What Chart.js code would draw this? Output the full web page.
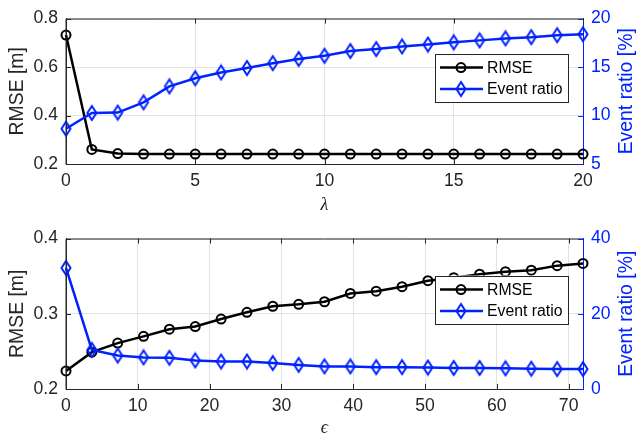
<!DOCTYPE html>
<html>
<head>
<meta charset="utf-8">
<script src="https://cdn.jsdelivr.net/npm/chart.js@4.4.1/dist/chart.umd.min.js"></script>
<style>
  html, body { margin: 0; padding: 0; background: #fff; }
  .wrap { position: absolute; left: 0; width: 638px; }
  #topWrap { top: 0; height: 220px; }
  #botWrap { top: 220px; height: 219px; }
</style>
</head>
<body>
<div class="wrap" id="topWrap"><canvas id="topChart" width="638" height="220"></canvas></div>
<div class="wrap" id="botWrap"><canvas id="botChart" width="638" height="219"></canvas></div>
<script>
// top panel: sweep over lambda
const lambdaValues = [0, 1, 2, 3, 4, 5, 6, 7, 8, 9, 10, 11, 12, 13, 14, 15, 16, 17, 18, 19, 20];
const rmseLambda = [0.732, 0.26, 0.243, 0.241, 0.241, 0.241, 0.241, 0.241, 0.241, 0.241, 0.241,
  0.241, 0.241, 0.241, 0.241, 0.241, 0.241, 0.241, 0.241, 0.241, 0.241];
const ratioLambda = [8.64, 10.26, 10.3, 11.36, 13.0, 13.84, 14.44, 14.9, 15.4, 15.83, 16.16,
  16.65, 16.85, 17.12, 17.32, 17.55, 17.75, 17.95, 18.08, 18.28, 18.38];

// bottom panel: sweep over epsilon
const epsValues = [0, 3.6, 7.2, 10.8, 14.4, 18, 21.6, 25.2, 28.8, 32.4, 36,
  39.6, 43.2, 46.8, 50.4, 54, 57.6, 61.2, 64.8, 68.4, 72];
const rmseEps = [0.224, 0.249, 0.261, 0.270, 0.2795, 0.283, 0.293, 0.302, 0.310, 0.3126, 0.316,
  0.327, 0.330, 0.336, 0.344, 0.348, 0.3527, 0.356, 0.358, 0.364, 0.367];
const ratioEps = [32.2, 10.4, 8.9, 8.4, 8.3, 7.6, 7.3, 7.3, 6.9, 6.4, 6.0,
  6.0, 5.8, 5.8, 5.7, 5.6, 5.6, 5.5, 5.4, 5.3, 5.3];

// tick labels
const topXTicks = [0, 5, 10, 15, 20];
const topLeftTicks = [0.2, 0.4, 0.6, 0.8];
const topRightTicks = [5, 10, 15, 20];
const botXTicks = [0, 10, 20, 30, 40, 50, 60, 70];
const botLeftTicks = [0.2, 0.3, 0.4];
const botRightTicks = [0, 20, 40];

const seriesNames = ["RMSE", "Event ratio"];
const rightTitle = "Event ratio [%]";

const BLACK = "#000000";
const AXIS = "#262626";
const BLUE = "#0022ff";
const GRID = "#e3e3e3";
const SANS = "'Liberation Sans', Arial, Helvetica, sans-serif";
const SERIF = "'Liberation Serif', 'DejaVu Serif', serif";

// tall unfilled diamond like matlab's 'd' marker
function makeDiamond(color) {
  const c = document.createElement("canvas");
  c.width = 14;
  c.height = 18;
  const g = c.getContext("2d");
  g.strokeStyle = color;
  g.lineWidth = 2;
  g.beginPath();
  g.moveTo(7, 2);
  g.lineTo(11.5, 9);
  g.lineTo(7, 16);
  g.lineTo(2.5, 9);
  g.closePath();
  g.stroke();
  return c;
}
const diamond = makeDiamond(BLUE);

function toPoints(xs, ys) {
  return xs.map((x, i) => ({ x: x, y: ys[i] }));
}

// box, inward tick marks, right title (reads upward) and legend, matlab style
const matlabFrame = {
  id: "matlabFrame",
  afterDraw(chart, args, opts) {
    const { ctx, chartArea } = chart;
    const { left, right, top, bottom } = chartArea;
    const sx = chart.scales.x, sy = chart.scales.y, sy2 = chart.scales.y2;
    const tl = 5;
    ctx.save();
    ctx.lineWidth = 1;
    ctx.strokeStyle = AXIS;
    ctx.beginPath();
    ctx.moveTo(left, bottom + 0.5);
    ctx.lineTo(left, top + 0.5);
    ctx.lineTo(right, top + 0.5);
    ctx.stroke();
    ctx.beginPath();
    sx.ticks.forEach(t => {
      const px = Math.round(sx.getPixelForValue(t.value)) + 0.5;
      ctx.moveTo(px, bottom); ctx.lineTo(px, bottom - tl);
      ctx.moveTo(px, top); ctx.lineTo(px, top + tl);
    });
    sy.ticks.forEach(t => {
      const py = Math.round(sy.getPixelForValue(t.value)) + 0.5;
      ctx.moveTo(left, py); ctx.lineTo(left + tl, py);
    });
    ctx.stroke();
    ctx.strokeStyle = BLUE;
    ctx.beginPath();
    sy2.ticks.forEach(t => {
      const py = Math.round(sy2.getPixelForValue(t.value)) + 0.5;
      ctx.moveTo(right, py); ctx.lineTo(right - tl, py);
    });
    ctx.stroke();

    // right axis title
    ctx.save();
    ctx.translate(sy2.right - 11.6, (top + bottom) / 2);
    ctx.rotate(-Math.PI / 2);
    ctx.font = "19.4px " + SANS;
    ctx.fillStyle = BLUE;
    ctx.textAlign = "center";
    ctx.textBaseline = "middle";
    ctx.fillText(rightTitle, 0, 0);
    ctx.restore();

    // legend
    const w = 133, h = 48;
    const bx = right - opts.fromRight - w;
    const by = top + opts.fromTop;
    ctx.fillStyle = "#fff";
    ctx.fillRect(bx, by, w, h);
    ctx.strokeStyle = AXIS;
    ctx.lineWidth = 1;
    ctx.strokeRect(Math.round(bx) + 0.5, Math.round(by) + 0.5, w, h);
    const rows = [by + 14, by + 35.5];
    ctx.font = "15.8px " + SANS;
    ctx.textBaseline = "middle";
    chart.data.datasets.forEach((ds, i) => {
      const y = rows[i];
      ctx.strokeStyle = ds.borderColor;
      ctx.lineWidth = ds.borderWidth;
      ctx.beginPath();
      ctx.moveTo(bx + 5, y);
      ctx.lineTo(bx + 48, y);
      ctx.stroke();
      const mx = bx + 26;
      if (ds.pointStyle === "circle") {
        ctx.lineWidth = 2;
        ctx.beginPath();
        ctx.arc(mx, y, 4.5, 0, Math.PI * 2);
        ctx.stroke();
      } else {
        ctx.drawImage(diamond, mx - 7, y - 9);
      }
      ctx.fillStyle = BLACK;
      ctx.fillText(ds.label, bx + 52, y + 1);
    });
    ctx.restore();
  },
};

function makeChart(canvasId, cfg) {
  const tickFont = { family: SANS, size: 17.6 };
  const titleFont = { family: SANS, size: 19.4 };
  return new Chart(document.getElementById(canvasId), {
    type: "line",
    data: {
      datasets: [
        {
          label: seriesNames[0],
          data: toPoints(cfg.xs, cfg.rmse),
          yAxisID: "y",
          borderColor: BLACK,
          borderWidth: 2.5,
          pointStyle: "circle",
          pointRadius: 4.5,
          pointBorderWidth: 2,
          pointBorderColor: BLACK,
          pointBackgroundColor: "rgba(0,0,0,0)",
          tension: 0,
          clip: false,
          order: 1,
        },
        {
          label: seriesNames[1],
          data: toPoints(cfg.xs, cfg.ratio),
          yAxisID: "y2",
          borderColor: BLUE,
          borderWidth: 2.5,
          pointStyle: diamond,
          pointRadius: 6,
          tension: 0,
          clip: false,
          order: 0,
        },
      ],
    },
    options: {
      responsive: false,
      animation: false,
      layout: { padding: { top: cfg.padTop, left: 0, right: 0, bottom: 0 } },
      plugins: {
        legend: { display: false },
        tooltip: { enabled: false },
        matlabFrame: { fromRight: 15, fromTop: cfg.legendTop },
      },
      scales: {
        x: {
          type: "linear",
          min: 0,
          max: cfg.xMax,
          afterBuildTicks: s => { s.ticks = cfg.xTicks.map(v => ({ value: v })); },
          afterFit: s => { s.height = cfg.xHeight; },
          grid: { color: GRID, drawTicks: false },
          border: { color: AXIS, width: 1 },
          ticks: { color: AXIS, font: tickFont, padding: 7, maxRotation: 0, callback: v => String(v) },
          title: {
            display: true,
            text: cfg.xTitle,
            color: AXIS,
            font: { family: SERIF, size: 18, style: "italic" },
            padding: { top: 0, bottom: cfg.xTitlePad },
          },
        },
        y: {
          position: "left",
          min: cfg.leftTicks[0],
          max: cfg.leftTicks[cfg.leftTicks.length - 1],
          afterBuildTicks: s => { s.ticks = cfg.leftTicks.map(v => ({ value: v })); },
          afterFit: s => { s.width = 66; },
          grid: { color: GRID, drawTicks: false },
          border: { color: AXIS, width: 1 },
          ticks: { color: AXIS, font: tickFont, padding: 8, callback: v => String(v) },
          title: { display: true, text: "RMSE [m]", color: AXIS, font: titleFont, padding: { top: 6, bottom: 0 } },
        },
        y2: {
          position: "right",
          min: cfg.rightTicks[0],
          max: cfg.rightTicks[cfg.rightTicks.length - 1],
          afterBuildTicks: s => { s.ticks = cfg.rightTicks.map(v => ({ value: v })); },
          afterFit: s => { s.width = 55; },
          grid: { display: false, drawTicks: false },
          border: { color: BLUE, width: 1 },
          ticks: { color: BLUE, font: tickFont, padding: 8, callback: v => String(v) },
          title: { display: false },
        },
      },
    },
    plugins: [matlabFrame],
  });
}

makeChart("topChart", {
  xs: lambdaValues, rmse: rmseLambda, ratio: ratioLambda,
  xMax: 20, xTicks: topXTicks, leftTicks: topLeftTicks, rightTicks: topRightTicks,
  xTitle: "λ", padTop: 13, xHeight: 56, xTitlePad: 4, legendTop: 35,
});

makeChart("botChart", {
  xs: epsValues, rmse: rmseEps, ratio: ratioEps,
  xMax: 72, xTicks: botXTicks, leftTicks: botLeftTicks, rightTicks: botRightTicks,
  xTitle: "ϵ", padTop: 18, xHeight: 50, xTitlePad: 0, legendTop: 37,
});
</script>
</body>
</html>
